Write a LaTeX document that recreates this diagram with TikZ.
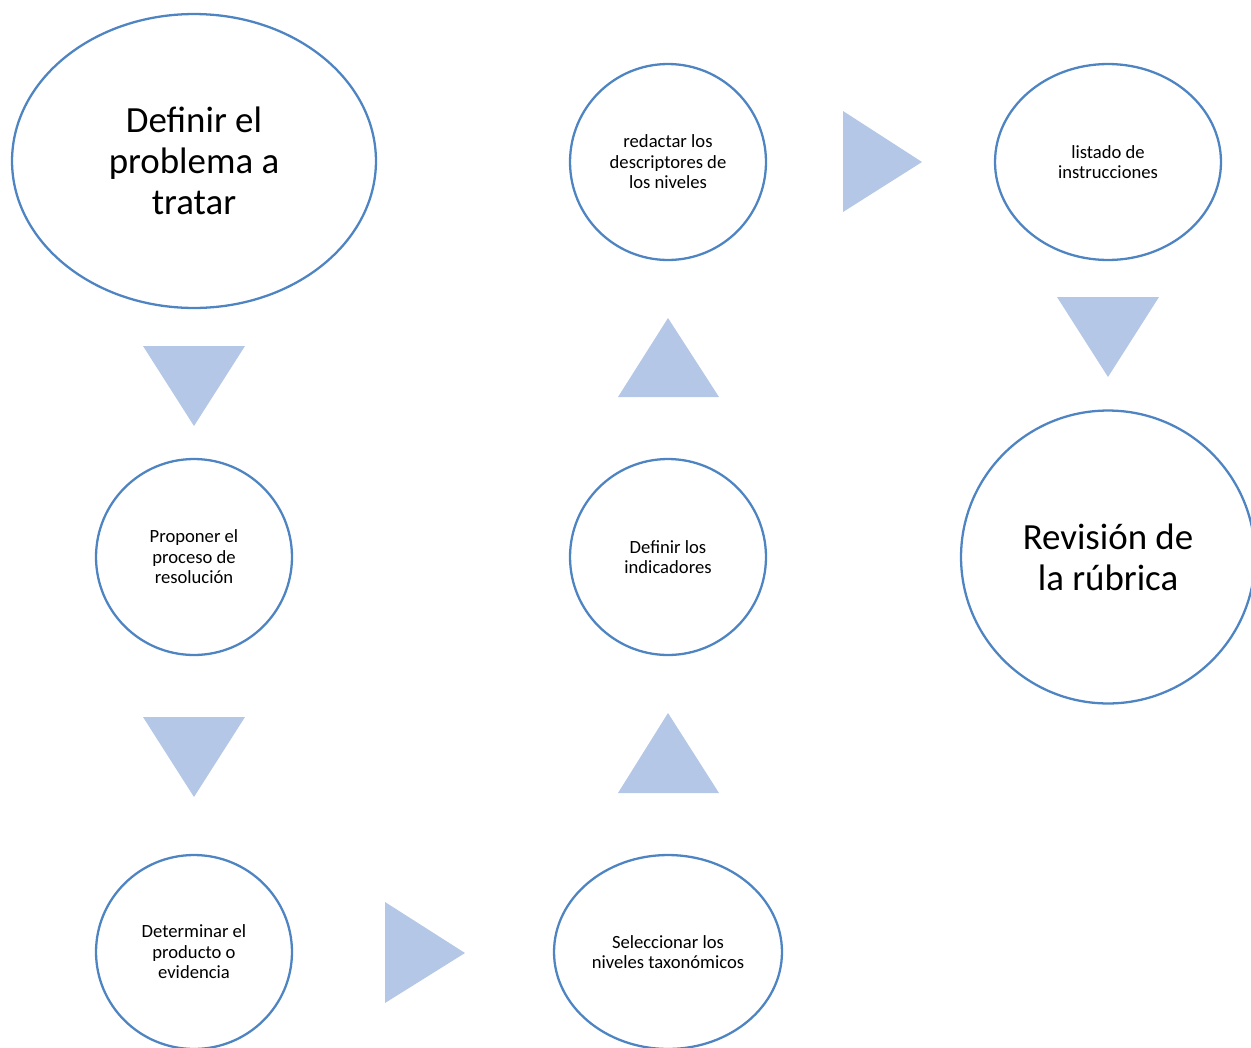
\documentclass[tikz,border=0pt]{standalone}
\usepackage{fontspec}
\setmainfont{Carlito}
\usetikzlibrary{shapes.geometric}
\definecolor{linec}{HTML}{4F84C2}
\definecolor{tric}{HTML}{B4C7E7}

\begin{document}
\begin{tikzpicture}[
      x=0.02cm, y=-0.02cm,
      bub/.style={ellipse, draw=linec, line width=1.3pt, align=center, inner sep=0pt,
                  font=\fontsize{10.6}{11.7}\selectfont},
      big/.style={bub, font=\fontsize{21}{23.5}\selectfont},
      tri/.style={fill=tric, draw=none}]
    \useasboundingbox (0,0) rectangle (1251,1048);
    % steps
    \node[big, minimum width=7.28cm, minimum height=5.88cm] (prob) at (194,161)
      {Definir el\\problema a\\tratar};
    \node[bub, minimum width=3.92cm, minimum height=3.92cm] (prop) at (194,557)
      {Proponer el\\proceso de\\resolución};
    \node[bub, minimum width=3.92cm, minimum height=3.88cm] (prod) at (194,952)
      {Determinar el\\producto o\\evidencia};
    \node[bub, minimum width=4.56cm, minimum height=3.88cm] (tax) at (668,952)
      {Seleccionar los\\niveles taxonómicos};
    \node[bub, minimum width=3.92cm, minimum height=3.92cm] (ind) at (668,557)
      {Definir los\\indicadores};
    \node[bub, minimum width=3.92cm, minimum height=3.92cm] (desc) at (668,162)
      {redactar los\\descriptores de\\los niveles};
    \node[bub, minimum width=4.52cm, minimum height=3.92cm] (inst) at (1108,162)
      {listado de\\instrucciones};
    \node[big, minimum width=5.88cm, minimum height=5.86cm] (rev) at (1108,557)
      {Revisión de\\la rúbrica};
    % arrows between steps
    \fill[tri] (143,346) -- (245,346) -- (194,426) -- cycle;
    \fill[tri] (143,717) -- (245,717) -- (194,797) -- cycle;
    \fill[tri] (385,902) -- (385,1003) -- (465,953) -- cycle;
    \fill[tri] (618,793) -- (719,793) -- (668,713) -- cycle;
    \fill[tri] (618,397) -- (719,397) -- (668,318) -- cycle;
    \fill[tri] (843,111) -- (843,212) -- (922,162) -- cycle;
    \fill[tri] (1057,297) -- (1159,297) -- (1108,377) -- cycle;
  \end{tikzpicture}
\end{document}
